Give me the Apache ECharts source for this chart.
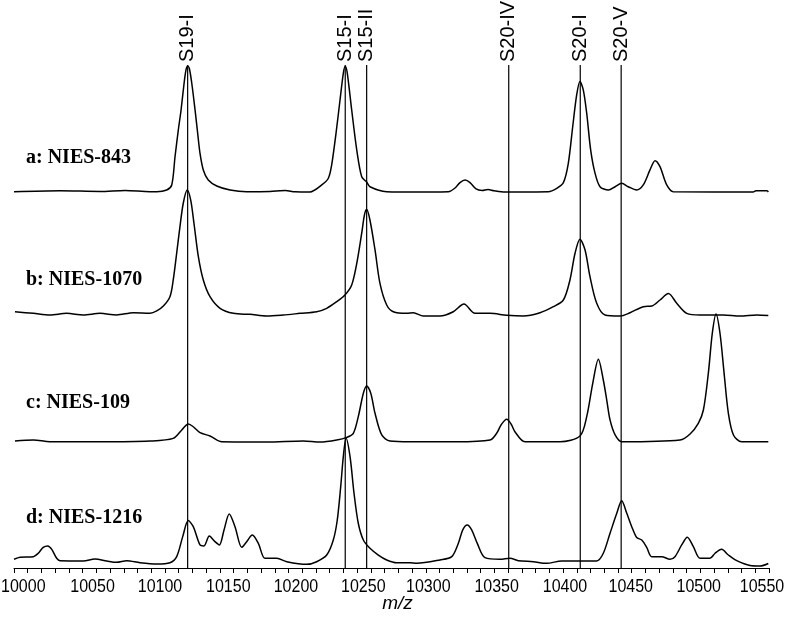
<!DOCTYPE html>
<html>
<head>
<meta charset="utf-8">
<script src="https://cdn.jsdelivr.net/npm/echarts@6/dist/echarts.min.js"></script>
<style>
html,body{margin:0;padding:0;background:#fff;}
#chart{width:791px;height:621px;}
</style>
</head>
<body>
<div id="chart"></div>
<script>
// ---- data (m/z, relative intensity above each trace's baseline) ----
const sampleNames = ['a: NIES-843', 'b: NIES-1070', 'c: NIES-109', 'd: NIES-1216'];

const traceA = [[10000,0.2],[10033.5,1.0],[10062.7,0.4],[10080.9,1.2],[10099.1,0.2],[10104,0.2],[10111.2,1.6],[10114.9,5.6],[10117.3,28],[10119.7,49.2],[10121.7,65.1],[10123.9,86.3],[10125.3,96.9],[10126.5,100],[10127.7,98.2],[10129.5,86.3],[10131.9,65.1],[10133.8,46.6],[10135.5,30.7],[10137.9,17.5],[10141.5,9.5],[10147.7,4.8],[10157.4,1.6],[10169.5,0.2],[10186.5,0.4],[10193.8,1.0],[10197.6,1.2],[10204.7,0.2],[10215.6,0],[10224.2,5.6],[10229,10.9],[10231.4,21.4],[10234.6,46.8],[10237.5,73],[10239.9,94.2],[10241.3,99.8],[10242.8,94.2],[10246,65.1],[10249.7,33.3],[10253.3,12.1],[10256.9,7.9],[10259.3,4.2],[10271.5,0.2],[10281.2,0],[10303.1,0],[10316.4,0.2],[10321.3,3.2],[10324.9,7.5],[10328.6,9.5],[10332.2,7.5],[10336.6,2.4],[10341,1.2],[10345.3,2.0],[10349.7,1.0],[10357.7,0],[10389.2,0.2],[10395.4,2.9],[10400.2,7.4],[10403.8,22.8],[10407,51.8],[10409.9,77],[10412.3,87.6],[10414.7,81],[10417.2,62.5],[10420.1,33.3],[10423.3,14.8],[10426.9,4.2],[10433,1.6],[10437.9,4.2],[10442.7,6.9],[10447.5,4.2],[10453.6,1.6],[10458.4,5.6],[10463.3,17.5],[10467,24.9],[10470.6,20.1],[10475.5,5.6],[10480.3,0.2],[10538.4,0],[10540.5,1.0],[10548.6,1.0],[10549.5,0]];

const traceB = [[10000.7,3.4],[10014.1,2.1],[10026.2,0.8],[10038.4,2.1],[10050.5,0.8],[10062.7,2.1],[10074.8,0.8],[10086.9,2.6],[10099.1,2.1],[10104,4.0],[10108.8,7.9],[10113.6,15.3],[10116,28.6],[10118.5,49.8],[10120.9,70.9],[10123.3,89.5],[10126.2,100],[10128.7,92.1],[10131.1,73.6],[10134.3,47.1],[10137.9,28.6],[10142.8,15.3],[10150.1,6.1],[10159.8,2.1],[10171.9,1.3],[10184.1,0],[10196.2,0.8],[10208.4,2.1],[10220.5,3.4],[10227.8,6.1],[10235.1,11.4],[10241.1,16.7],[10246,24.6],[10249.7,41.8],[10253.3,65.7],[10255.3,80.2],[10256.9,84.7],[10259.3,76.2],[10263,52.4],[10266.6,25.9],[10271.5,8.7],[10276.3,3.4],[10286.1,2.1],[10290.9,2.6],[10298.2,0],[10310.3,0],[10320,3.4],[10327.8,9.5],[10335.8,2.1],[10346.8,2.1],[10358.9,0.6],[10371,0],[10383.2,2.6],[10392.9,7.4],[10400.2,12.7],[10405,28.6],[10408.7,49.8],[10412.3,60.9],[10416,52.4],[10419.6,31.2],[10424.5,10.1],[10430.5,0.8],[10441.5,0],[10448.8,2.6],[10458.4,7.4],[10464.6,7.9],[10470.6,12.7],[10476.7,17.9],[10482.8,10.1],[10490.1,2.1],[10499.8,0.8],[10516.7,0.8],[10528.9,0],[10541,0.8],[10549.5,0.4]];

const traceC = [[10000.7,0.8],[10014.1,1.6],[10026.2,0.2],[10062.7,0.2],[10099.1,0.8],[10116,2.9],[10122.2,9.5],[10127,14.3],[10130.6,12.1],[10135.5,7.4],[10142.8,4.8],[10151.3,0.2],[10184.1,0],[10210.8,0.8],[10222.9,0],[10235.1,1.6],[10242.4,3.7],[10247.2,6.9],[10250.8,20.1],[10254.5,38.7],[10256.9,44.5],[10259.9,38.7],[10263,22.8],[10267.9,5.6],[10273.9,0.8],[10288.5,0.2],[10322.5,0.2],[10346.8,1.6],[10351.6,6.9],[10354.8,13.5],[10358.9,18.0],[10362.1,14.3],[10364.9,8.2],[10372.2,0.2],[10397.8,0.2],[10412.3,4.8],[10417.2,20.1],[10421.6,46.6],[10425.7,65.7],[10429.3,49.2],[10431.8,33.3],[10434.2,17.5],[10437.9,5.6],[10442.7,0.2],[10485.2,1.6],[10492.5,6.4],[10498.5,14.8],[10502.2,25.4],[10505.8,54.5],[10508.7,86.3],[10511.4,101.6],[10514.3,86.3],[10517.3,54.5],[10520.4,22.8],[10524.1,5.6],[10530.1,0.2],[10549.5,0.2]];

const traceD = [[10000,6.9],[10004.4,8.5],[10014.1,9.0],[10017.7,11.7],[10021.3,16.4],[10024.6,17.5],[10027.5,14.8],[10031.1,7.7],[10033.5,5.8],[10050.5,5.6],[10059,7.1],[10067.5,5.6],[10074.8,4.5],[10082.1,5.8],[10091.8,4.2],[10104,3.2],[10113.6,4.2],[10118.5,9.0],[10122.9,24.9],[10127,37.6],[10130.6,32.8],[10135.5,18.3],[10138.4,17.5],[10142.3,25.4],[10146.4,20.9],[10149.6,18.3],[10153,30.2],[10156.8,42.9],[10161,32.8],[10165.9,16.4],[10169.5,20.9],[10173.6,26.2],[10178,19.6],[10182.9,7.7],[10191.4,7.7],[10198.7,5.0],[10213.2,2.9],[10220.5,5.0],[10227.8,10.3],[10232.6,22.2],[10235.5,38.1],[10238,64.6],[10239.9,88.4],[10241.9,103],[10244.8,88.4],[10247.7,59.3],[10250.8,35.5],[10254.5,22.2],[10259.3,15.6],[10265.4,10.3],[10271.5,6.4],[10278.8,4.2],[10288.5,4.2],[10293.4,3.7],[10310.3,6.4],[10318.9,9.0],[10323.7,19.6],[10326.9,30.2],[10330.2,34.1],[10333.4,30.2],[10337.5,19.6],[10343.1,8.2],[10354.1,6.9],[10361.3,7.7],[10367.4,5.8],[10378.3,5.0],[10388.1,3.7],[10399,5.6],[10409.9,5.6],[10424.5,5.6],[10429.3,11.7],[10434.2,27.6],[10439.1,43.4],[10442.7,53.4],[10446.4,43.4],[10450,32.8],[10453.6,24.2],[10457.3,22.2],[10460.9,16.4],[10464.6,9.0],[10471.8,9.0],[10477.9,6.9],[10481.5,9.0],[10486.4,18.3],[10490.5,24.4],[10494.9,16.9],[10499.8,7.7],[10507,7.7],[10510.7,11.7],[10515.5,14.8],[10520.4,10.3],[10526.5,5.8],[10536.2,2.0],[10543.5,1.6],[10549.5,3.6]];

const markerMz = [10126.5, 10241.3, 10256.9, 10360.4, 10412.5, 10442.3];
const markerNames = ['S19-I', 'S15-I', 'S15-II', 'S20-IV', 'S20-I', 'S20-V'];

const xMin = 10000, xMax = 10550, xStep = 10;
const tickLabels = [10000, 10050, 10100, 10150, 10200, 10250, 10300, 10350, 10400, 10450, 10500, 10550];
const axisTitle = 'm/z';

// ---- layout / style ----
const tickLabelShift = [9.3, 9.9, 8.7, 8.4, 7.4, 6.1, 2.5, 2.2, 1.9, -1, -1.6, -7]; // px offsets of labels as placed in the original figure
const traces = [traceA, traceB, traceC, traceD];
const baselines = [192, 316, 442, 568];   // px from top: baseline of each trace
const traceHeight = 126;                   // px for 100 units
const H = 621, L = 14, R = 22;
const sansFont = '"Liberation Sans", Arial, sans-serif';

const grids = baselines.map(b => ({left: L, right: R, top: b - traceHeight, bottom: H - b,
  containLabel: false, outerBoundsMode: 'none'}));
grids.push({left: L, right: R, top: 65, bottom: H - 568, containLabel: false, outerBoundsMode: 'none'});

const xAxes = grids.map((g, i) => ({
  type: 'value', gridIndex: i, min: xMin, max: xMax, interval: xStep,
  show: i === 3,
  axisLine: {show: true, onZero: false, lineStyle: {color: '#000', width: 1}},
  axisTick: {show: true, length: 5, lineStyle: {color: '#000', width: 1}},
  splitLine: {show: false},
  axisLabel: {show: false},
  name: i === 3 ? axisTitle : '',
  nameLocation: 'middle', nameGap: 26,
  nameTextStyle: {color: '#000', fontSize: 19, fontStyle: 'italic',
    fontFamily: sansFont, padding: [0, 0, 0, 12]}
}));

const yAxes = grids.map((g, i) => ({
  type: 'value', gridIndex: i, min: 0, max: i === 4 ? 1 : 100, show: false
}));

const series = traces.map((t, i) => ({
  type: 'line', xAxisIndex: i, yAxisIndex: i, data: t,
  showSymbol: false, symbol: 'none', smooth: 0.3, clip: false,
  lineStyle: {color: '#000', width: 1.5}, silent: true
}));

// marker lines with rotated names
series.push({
  type: 'custom', xAxisIndex: 4, yAxisIndex: 4, clip: false, silent: true,
  data: markerMz.map(m => [m, 0]),
  renderItem: function (params, api) {
    const x = api.coord([api.value(0), 0])[0];
    const cs = params.coordSys;
    return {
      type: 'group',
      children: [
        {type: 'line', shape: {x1: x, y1: cs.y, x2: x, y2: cs.y + cs.height},
         style: {stroke: '#000', lineWidth: 1.2}},
        {type: 'text', x: x, y: cs.y - 3, rotation: Math.PI / 2,
         style: {text: markerNames[params.dataIndex], fill: '#000', fontSize: 20,
                 fontFamily: sansFont, align: 'left', verticalAlign: 'middle'}}
      ]
    };
  }
});

// x tick labels (at their axis values, with the original figure's small offsets; tall narrow face)
series.push({
  type: 'custom', xAxisIndex: 3, yAxisIndex: 3, clip: false, silent: true,
  data: tickLabels.map(v => [v, 0]),
  renderItem: function (params, api) {
    const x = api.coord([api.value(0), 0])[0] + tickLabelShift[params.dataIndex];
    const cs = params.coordSys;
    return {
      type: 'text', x: x, y: cs.y + cs.height + 9.5, scaleY: 1.2,
      style: {text: String(tickLabels[params.dataIndex]), fill: '#000', fontSize: 16,
              fontFamily: sansFont, align: 'center', verticalAlign: 'top'}
    };
  }
});

const labelCenters = [158, 280, 403, 518];
const graphic = sampleNames.map((n, i) => ({
  type: 'text', left: 26, top: labelCenters[i] - 10,
  style: {text: n, fill: '#000', font: 'bold 20px "Liberation Serif", "Times New Roman", serif'}
}));

const chart = echarts.init(document.getElementById('chart'), null, {renderer: 'canvas'});
chart.setOption({
  animation: false,
  backgroundColor: '#fff',
  grid: grids,
  xAxis: xAxes,
  yAxis: yAxes,
  series: series,
  graphic: graphic
});
</script>
</body>
</html>
